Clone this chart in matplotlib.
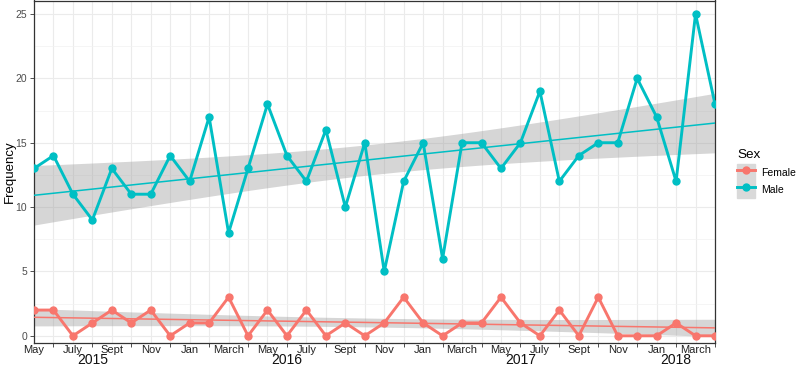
import numpy as np
import matplotlib.pyplot as plt
from matplotlib.patches import Patch
from matplotlib.lines import Line2D

plt.rcParams['font.family'] = ['Liberation Sans', 'DejaVu Sans']

# monthly counts, May 2015 .. April 2018
months = ['May', 'June', 'July', 'Aug', 'Sept', 'Oct', 'Nov', 'Dec',
          'Jan', 'Feb', 'March', 'April', 'May', 'June', 'July', 'Aug', 'Sept', 'Oct', 'Nov', 'Dec',
          'Jan', 'Feb', 'March', 'April', 'May', 'June', 'July', 'Aug', 'Sept', 'Oct', 'Nov', 'Dec',
          'Jan', 'Feb', 'March', 'April']
male = [13, 14, 11, 9, 13, 11, 11, 14,
        12, 17, 8, 13, 18, 14, 12, 16, 10, 15, 5, 12,
        15, 6, 15, 15, 13, 15, 19, 12, 14, 15, 15, 20,
        17, 12, 25, 18]
female = [2, 2, 0, 1, 2, 1, 2, 0,
          1, 1, 3, 0, 2, 0, 2, 0, 1, 0, 1, 3,
          1, 0, 1, 1, 3, 1, 0, 2, 0, 3, 0, 0,
          0, 1, 0, 0]
years = ['2015', '2016', '2017', '2018']
year_pos = [3, 13, 25, 33]

series = {'Female': (female, '#F8766D'), 'Male': (male, '#00BFC4')}

x = np.arange(len(months))

fig = plt.figure(figsize=(7.96, 3.67), dpi=100)
ax = fig.add_axes([34 / 796, 24.5 / 367, 681 / 796, 342 / 367])

# lm fit with 95% band, like geom_smooth(method = "lm")
t975 = 2.0322
xs = np.linspace(x.min(), x.max(), 100)
for name, (vals, col) in series.items():
    y = np.array(vals, dtype=float)
    b, a = np.polyfit(x, y, 1)
    resid = y - (a + b * x)
    s = np.sqrt(np.sum(resid ** 2) / (len(x) - 2))
    se = s * np.sqrt(1 / len(x) + (xs - x.mean()) ** 2 / np.sum((x - x.mean()) ** 2))
    fit = a + b * xs
    ax.fill_between(xs, fit - t975 * se, fit + t975 * se, color='#999999', alpha=0.4, lw=0, zorder=2)
    ax.plot(xs, fit, color=col, lw=1.1, zorder=3)

for name, (vals, col) in series.items():
    ax.plot(x, vals, color=col, lw=2.1, marker='o', ms=5, zorder=4)

ax.set_xlim(x.min(), x.max())
ax.set_ylim(-0.52, 26.05)

# grid
ax.set_yticks([0, 5, 10, 15, 20, 25])
ax.set_yticks(np.arange(2.5, 26, 5), minor=True)
ax.set_xticks(x[1::2])
ax.set_xticks(x[0::2], minor=True)
ax.set_xticklabels([])
ax.set_xticklabels(months[0::2], minor=True)
ax.grid(True, which='major', color='#EBEBEB', lw=0.8, zorder=0)
ax.grid(True, which='minor', color='#EBEBEB', lw=0.8, zorder=0)
ax.yaxis.grid(True, which='minor', color='#F2F2F2', lw=0.5)
ax.set_axisbelow(True)

ax.tick_params(axis='y', which='major', length=3, width=0.6, color='#333333',
               labelsize=7.5, labelcolor='#4D4D4D', pad=2)
ax.tick_params(axis='y', which='minor', length=0)
ax.tick_params(axis='x', which='major', length=3, width=0.6, color='#333333')
ax.tick_params(axis='x', which='minor', length=0, labelsize=8, labelcolor='#222222', pad=2)
for sp in ax.spines.values():
    sp.set_color('#333333')
    sp.set_linewidth(0.9)

for yr, p in zip(years, year_pos):
    ax.text(p, -0.03, yr, transform=ax.get_xaxis_transform(), ha='center', va='top',
            fontsize=10, color='#111111')

ax.set_ylabel('Frequency', fontsize=9.5, color='black')
ax.yaxis.set_label_coords(-18 / 681, 0.5)

handles = [(Patch(color='#D9D9D9'), Line2D([], [], color=c, lw=2.1, marker='o', ms=5))
           for _, (_, c) in series.items()]
leg = ax.legend(handles, list(series.keys()), title='Sex', loc='upper left',
                bbox_to_anchor=(730 / 796, 1 - 142 / 367), bbox_transform=fig.transFigure,
                frameon=False, fontsize=7.5, title_fontsize=9.7, handlelength=1.7,
                handleheight=2.1, labelspacing=0.05, handletextpad=0.6, borderpad=0.2)
leg._legend_box.align = 'left'
leg._legend_box.sep = 2

fig.savefig('out.png', dpi=100)
